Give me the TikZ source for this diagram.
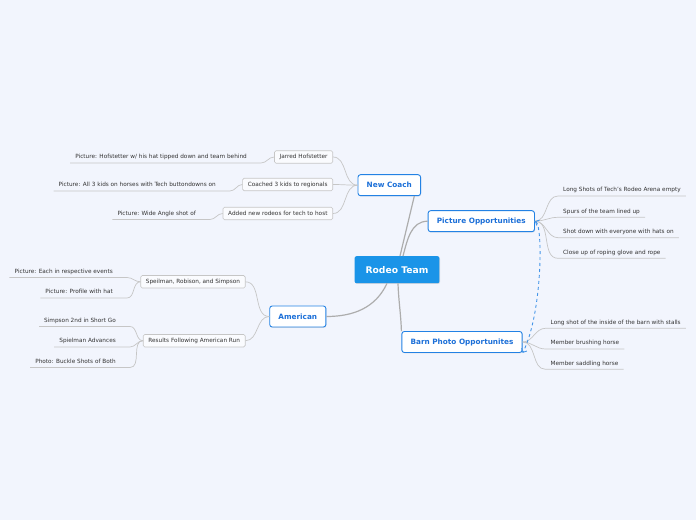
\documentclass[tikz,border=0pt]{standalone}
\usepackage{fontspec}
\setmainfont{DejaVu Sans}
\usetikzlibrary{arrows.meta, shadows}
\definecolor{bgblue}{HTML}{F2F5FD}
\definecolor{topicblue}{HTML}{2382E4}
\definecolor{topictext}{HTML}{1B6FD8}
\definecolor{rootblue}{HTML}{1A94E8}
\definecolor{trunkgray}{HTML}{ADADAD}
\definecolor{twiggray}{HTML}{C6C6C6}
\definecolor{labelgray}{HTML}{333333}
\tikzset{
	roottopic/.style={fill=rootblue, text=white, rounded corners=2pt, inner xsep=11pt,
		minimum height=27pt, font=\bfseries\fontsize{9.2}{11}\selectfont,
		drop shadow={shadow xshift=0.6pt, shadow yshift=-0.8pt, opacity=0.25}}
}
\tikzset{
	maintopic/.style={draw=topicblue, line width=0.9pt, fill=white, text=topictext,
		rounded corners=2.5pt, inner xsep=8.7pt, minimum height=21pt,
		font=\bfseries\fontsize{7.3}{9}\selectfont,
		drop shadow={shadow xshift=0.6pt, shadow yshift=-0.8pt, opacity=0.2}}
}
\tikzset{
	subtopic/.style={draw=twiggray, line width=0.6pt, fill=bgblue!40!white, text=labelgray,
		rounded corners=1.5pt, inner xsep=5.2pt, minimum height=12.5pt,
		font=\fontsize{5.75}{7}\selectfont}
}
\tikzset{
	leaf/.style={text=labelgray, inner xsep=5pt, inner ysep=2.5pt, text height=4.3pt,
		text depth=1.5pt, font=\fontsize{5.75}{7}\selectfont}
}
\tikzset{
	trunk/.style={draw=trunkgray, line width=1.2pt},
	twig/.style={draw=twiggray, line width=0.7pt},
	relation/.style={draw=topicblue!85!white, line width=0.9pt, dashed,
		{Straight Barb[length=3pt,width=6pt]}-{Straight Barb[length=3pt,width=6pt]}}
}

\begin{document}
\begin{tikzpicture}[x=1pt, y=1pt]
	\useasboundingbox (0,0) rectangle (696,520);
	\fill[bgblue] (0,0) rectangle (696,520);

	% central and main topics
	\node[roottopic] (rodeo) at (397,250.3) {Rodeo Team};
	\node[maintopic] (newcoach) at (389.3,334.8) {New Coach};
	\node[maintopic] (picopp) at (481.3,298.8) {Picture Opportunities};
	\node[maintopic] (barn) at (462,178) {Barn Photo Opportunites};
	\node[maintopic] (american) at (297.8,203.5) {American};

	\draw[trunk] ([xshift=3pt]rodeo.north) -- ([xshift=25pt]newcoach.south);
	\draw[trunk] ([xshift=6pt]rodeo.north) to[out=75,in=180] (picopp.west);
	\draw[trunk] ([xshift=1pt]rodeo.south) to[out=-88,in=92] (barn.north west);
	\draw[trunk] ([xshift=-10pt]rodeo.south) to[out=-115,in=0] (american.east);

	% New Coach
	\node[subtopic, anchor=east] (jarred) at (333,363) {Jarred Hofstetter};
	\node[subtopic, anchor=east] (coached) at (333,335.5) {Coached 3 kids to regionals};
	\node[subtopic, anchor=east] (added) at (333,306.5) {Added new rodeos for tech to host};
	\node[leaf, anchor=south east] (nc1) at (252,357) {Picture: Hofstetter w/ his hat tipped down and team behind};
	\node[leaf, anchor=south east] (nc2) at (221,329) {Picture: All 3 kids on horses with Tech buttondowns on};
	\node[leaf, anchor=south east] (nc3) at (201,300.5) {Picture: Wide Angle shot of};

	\foreach \sub in {jarred, coached, added}
		\draw[twig] (newcoach.west) to[out=180,in=0] (\sub.east);
	\draw[twig] (jarred.west) to[out=180,in=0] ([xshift=9pt]nc1.south east) -- (nc1.south west);
	\draw[twig] (coached.west) to[out=180,in=0] ([xshift=9pt]nc2.south east) -- (nc2.south west);
	\draw[twig] (added.west) to[out=180,in=0] ([xshift=9pt]nc3.south east) -- (nc3.south west);

	% Picture Opportunities
	\node[leaf, anchor=south west] (po1) at (558,324) {Long Shots of Tech's Rodeo Arena empty};
	\node[leaf, anchor=south west] (po2) at (558,302.7) {Spurs of the team lined up};
	\node[leaf, anchor=south west] (po3) at (558,282.3) {Shot down with everyone with hats on};
	\node[leaf, anchor=south west] (po4) at (558,261.7) {Close up of roping glove and rope};
	\foreach \lf in {po1, po2, po3, po4}
		\draw[twig] (picopp.east) to[out=0,in=180] (\lf.south west) -- (\lf.south east);

	% Barn Photo Opportunites
	\node[leaf, anchor=south west] (bp1) at (545.5,191.7) {Long shot of the inside of the barn with stalls};
	\node[leaf, anchor=south west] (bp2) at (545.5,171) {Member brushing horse};
	\node[leaf, anchor=south west] (bp3) at (545.5,150.7) {Member saddling horse};
	\foreach \lf in {bp1, bp2, bp3}
		\draw[twig] (barn.east) to[out=0,in=180] (\lf.south west) -- (\lf.south east);

	% American
	\node[subtopic, anchor=east] (trio) at (245.5,238.2) {Speilman, Robison, and Simpson};
	\node[subtopic, anchor=east] (results) at (245.5,179.3) {Results Following American Run};
	\node[leaf, anchor=south east] (am1) at (118,242.5) {Picture: Each in respective events};
	\node[leaf, anchor=south east] (am2) at (118,222) {Picture: Profile with hat};
	\node[leaf, anchor=south east] (am3) at (121,193.5) {Simpson 2nd in Short Go};
	\node[leaf, anchor=south east] (am4) at (121,173) {Spielman Advances};
	\node[leaf, anchor=south east] (am5) at (121,152.5) {Photo: Buckle Shots of Both};

	\draw[twig] (american.west) to[out=180,in=0] (trio.east);
	\draw[twig] (american.west) to[out=180,in=0] (results.east);
	\foreach \lf in {am1, am2}
		\draw[twig] (trio.west) to[out=180,in=0] ([xshift=9pt]\lf.south east) -- (\lf.south west);
	\foreach \lf in {am3, am4, am5}
		\draw[twig] (results.west) to[out=180,in=0] ([xshift=9pt]\lf.south east) -- (\lf.south west);

	% relationship
	\draw[relation] (picopp.east) .. controls +(8,-4) and +(20,40) .. (barn.south east);
\end{tikzpicture}
\end{document}
